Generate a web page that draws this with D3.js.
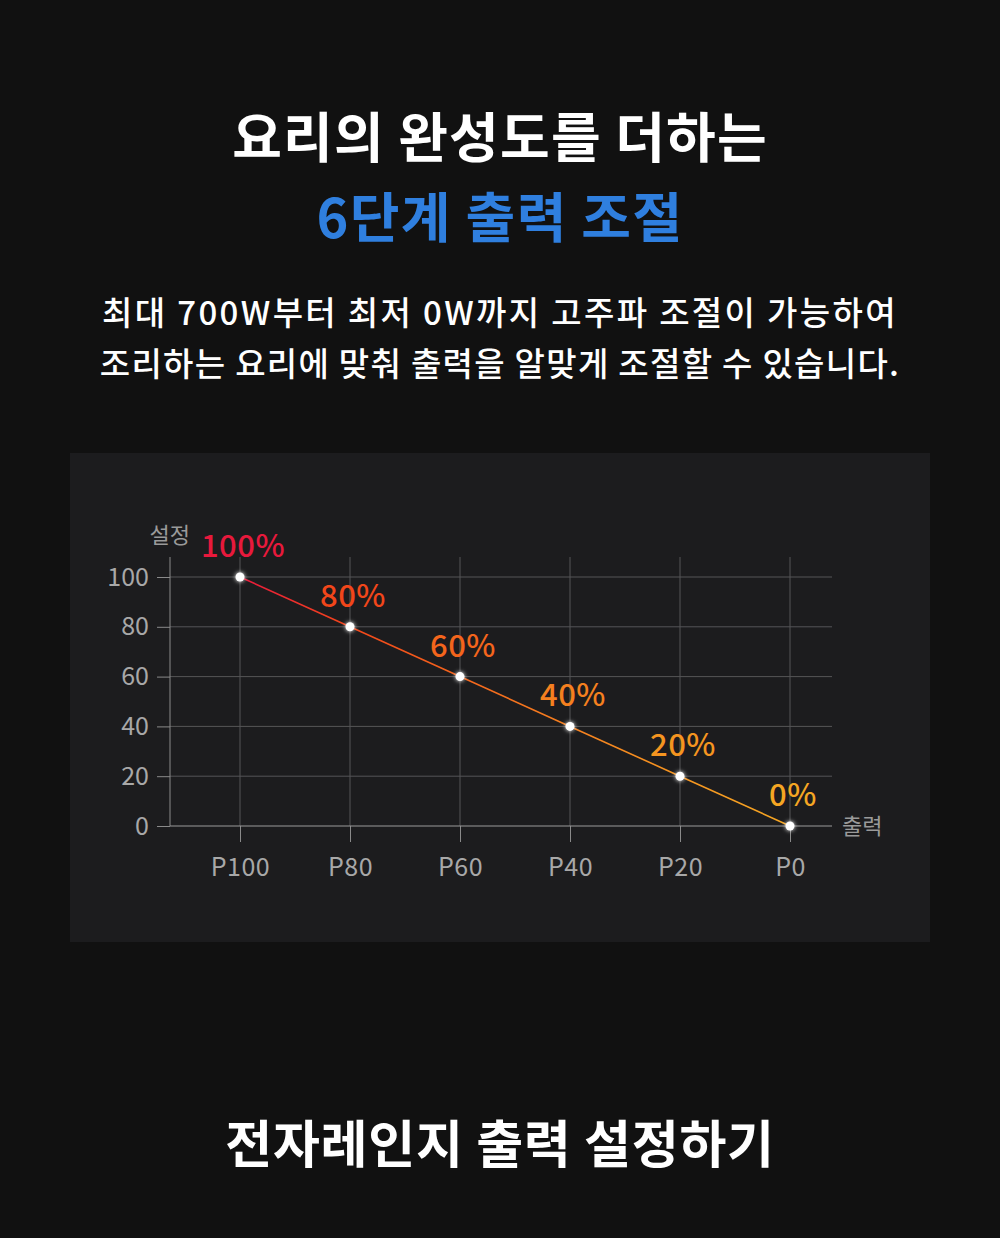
<!DOCTYPE html>
<html><head><meta charset="utf-8">
<script src="https://cdn.jsdelivr.net/npm/d3@7"></script>
<style>
html,body{margin:0;padding:0;background:#111111;}
svg{display:block;}
</style></head>
<body><svg id="c" width="1000" height="1238"></svg>
<script>
const categories = ["P100","P80","P60","P40","P20","P0"];
const values = [100,80,60,40,20,0];
const pointLabels = ["100%","80%","60%","40%","20%","0%"];
const yTicks = [0,20,40,60,80,100];
const labelColors = ["#e8193c","#f2461a","#f4651c","#f5801f","#f59520","#f5a623"];

const svg = d3.select("#c");
const font = "'Noto Sans CJK KR','Noto Sans',sans-serif";

svg.append("text").attr("x",500).attr("y",158).attr("text-anchor","middle")
  .attr("fill","#ffffff").attr("font-family",font).attr("font-weight",700).attr("font-size",54)
  .attr("letter-spacing","1.2").text("요리의 완성도를 더하는");
svg.append("text").attr("x",500).attr("y",238).attr("text-anchor","middle")
  .attr("fill","#2f7fdf").attr("font-family",font).attr("font-weight",700).attr("font-size",54)
  .attr("letter-spacing","1.4").text("6단계 출력 조절");
svg.append("text").attr("x",500).attr("y",325).attr("text-anchor","middle")
  .attr("fill","#ffffff").attr("font-family",font).attr("font-weight",500).attr("font-size",33)
  .attr("letter-spacing","2.35").text("최대 700W부터 최저 0W까지 고주파 조절이 가능하여");
svg.append("text").attr("x",500).attr("y",376).attr("text-anchor","middle")
  .attr("fill","#ffffff").attr("font-family",font).attr("font-weight",500).attr("font-size",33)
  .attr("letter-spacing","1.3").text("조리하는 요리에 맞춰 출력을 알맞게 조절할 수 있습니다.");
svg.append("text").attr("x",500).attr("y",1163).attr("text-anchor","middle")
  .attr("fill","#ffffff").attr("font-family",font).attr("font-weight",700).attr("font-size",51)
  .attr("letter-spacing","0.8").text("전자레인지 출력 설정하기");

svg.append("rect").attr("x",70).attr("y",453).attr("width",860).attr("height",489).attr("fill","#1c1c1e");

const x = d3.scalePoint().domain(categories).range([240,790]);
const y = d3.scaleLinear().domain([0,100]).range([826,577]);

const g = svg.append("g");
g.append("g").attr("transform","translate(170,0)")
  .call(d3.axisLeft(y).tickValues(yTicks).tickSize(13).tickPadding(8).tickFormat(d3.format("d")))
  .call(s=>{s.select(".domain").remove();
    s.selectAll(".tick line").attr("stroke","#8a8a8a").attr("stroke-width",1);
    s.selectAll(".tick text").attr("fill","#a8a8a8").attr("font-family",font).attr("font-size",25);});
g.append("g").selectAll("line").data(yTicks.filter(d=>d>0)).join("line")
  .attr("x1",170).attr("x2",832).attr("y1",d=>y(d)).attr("y2",d=>y(d))
  .attr("stroke","#555557").attr("stroke-width",1);
g.append("g").attr("transform","translate(0,826)")
  .call(d3.axisBottom(x).tickSize(16).tickPadding(16))
  .call(s=>{s.select(".domain").remove();
    s.selectAll(".tick line").attr("stroke","#8a8a8a");
    s.selectAll(".tick text").attr("fill","#a8a8a8").attr("font-family",font).attr("font-size",25).attr("letter-spacing","0.5");});
g.append("g").selectAll("line").data(categories).join("line")
  .attr("x1",d=>x(d)).attr("x2",d=>x(d)).attr("y1",557).attr("y2",826)
  .attr("stroke","#555557").attr("stroke-width",1);
g.append("line").attr("x1",170).attr("x2",170).attr("y1",557).attr("y2",826).attr("stroke","#8a8a8a");
g.append("line").attr("x1",170).attr("x2",832).attr("y1",826).attr("y2",826).attr("stroke","#9a9a9a");

svg.append("text").attr("x",190).attr("y",543).attr("text-anchor","end").attr("fill","#9a9a9a")
  .attr("font-family",font).attr("font-size",22).text("설정");
svg.append("text").attr("x",842).attr("y",834).attr("fill","#9a9a9a")
  .attr("font-family",font).attr("font-size",22).text("출력");

const defs = svg.append("defs");
const lg = defs.append("linearGradient").attr("id","lg").attr("gradientUnits","userSpaceOnUse")
  .attr("x1",x(categories[0])).attr("x2",x(categories[5])).attr("y1",0).attr("y2",0);
labelColors.forEach((c,i)=>lg.append("stop").attr("offset",(i/5*100)+"%").attr("stop-color",c));
const glow = defs.append("filter").attr("id","glow").attr("x","-100%").attr("y","-100%").attr("width","300%").attr("height","300%");
glow.append("feGaussianBlur").attr("stdDeviation",2).attr("result","b");
const m = glow.append("feMerge"); m.append("feMergeNode").attr("in","b"); m.append("feMergeNode").attr("in","SourceGraphic");

const data = categories.map((c,i)=>({c,v:values[i],l:pointLabels[i],col:labelColors[i]}));
svg.append("path").datum(data).attr("fill","none").attr("stroke","url(#lg)").attr("stroke-width",1.6)
  .attr("d",d3.line().x(d=>x(d.c)).y(d=>y(d.v)));
svg.append("g").selectAll("circle").data(data).join("circle")
  .attr("cx",d=>x(d.c)).attr("cy",d=>y(d.v)).attr("r",4.5).attr("fill","#ffffff").attr("filter","url(#glow)");
svg.append("g").selectAll("text").data(data).join("text")
  .attr("x",d=>x(d.c)+3).attr("y",d=>y(d.v)-20).attr("text-anchor","middle")
  .attr("fill",d=>d.col).attr("font-family",font).attr("font-weight",500).attr("font-size",31)
  .attr("letter-spacing","0.5").text(d=>d.l);
</script></body></html>
